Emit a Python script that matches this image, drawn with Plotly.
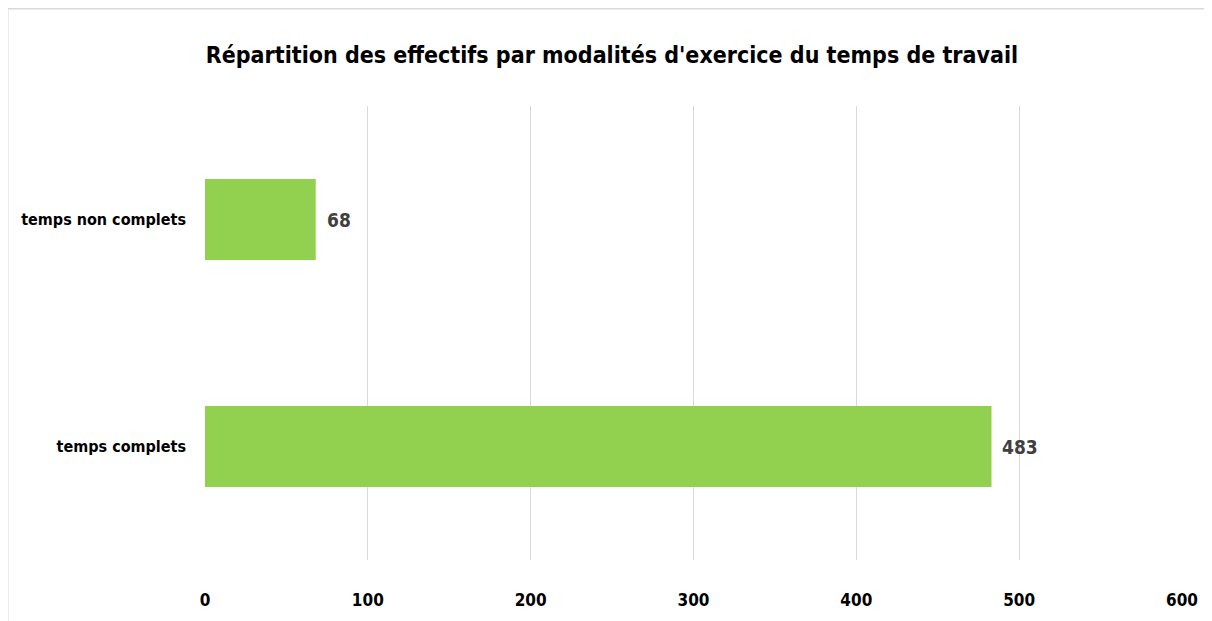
import plotly.graph_objects as go

categories = ["temps complets", "temps non complets"]
values = [483, 68]
tick_vals = [0, 100, 200, 300, 400, 500, 600]
title_text = "Répartition des effectifs par modalités d'exercice du temps de travail"

FONT = "DejaVu Sans Condensed, sans-serif"
OFF = 8  # page body offset

fig = go.Figure()
fig.add_trace(go.Bar(
    y=categories, x=values, orientation="h",
    marker=dict(color="#92D050", line=dict(width=0)),
    width=0.357, hoverinfo="skip",
))

for c, v in zip(categories, values):
    fig.add_annotation(x=v, y=c, text=f"<b>{v}</b>", showarrow=False,
                       xanchor="left", xshift=9,
                       font=dict(family=FONT, size=19, color="#404040"))

L, T, R, B = 205 - OFF, 106 - OFF, 1182 - OFF, 560 - OFF
W, H = R - L, B - T
def px_x(p): return (p - OFF - L) / W
def px_y(p): return (B - (p - OFF)) / H
fig.add_shape(type="rect", xref="paper", yref="paper",
              x0=px_x(7.5), x1=px_x(1300), y0=px_y(700), y1=px_y(8.5),
              line=dict(color="#d9d9d9", width=2), fillcolor="rgba(0,0,0,0)", layer="below")

fig.update_layout(
    width=1212, height=621,
    margin=dict(l=L, r=1212 - R, t=T, b=621 - B, autoexpand=False),
    paper_bgcolor="white", plot_bgcolor="white",
    showlegend=False,
    title=dict(text=f"<b>{title_text}</b>", x=(612 - OFF) / 1212, xref="container", xanchor="center",
               y=1 - (55 - OFF) / 621, yref="container", yanchor="middle",
               font=dict(family=FONT, size=23, color="black")),
    xaxis=dict(range=[0, 600], tickvals=tick_vals, ticktext=[f"<b>{t}</b>" for t in tick_vals],
               showgrid=True, gridcolor="#d9d9d9", gridwidth=1.3, zeroline=False,
               showline=False, ticks="", ticklabelstandoff=28,
               tickfont=dict(family=FONT, size=17, color="black")),
    yaxis=dict(categoryorder="array", categoryarray=categories, range=[-0.5, 1.5],
               showgrid=False, zeroline=False, showline=False, ticks="",
               ticklabelstandoff=18,
               ticktext=[f"<b>{c}</b>" for c in categories], tickvals=categories,
               tickfont=dict(family=FONT, size=16, color="black")),
)

fig.write_html("out.html")
